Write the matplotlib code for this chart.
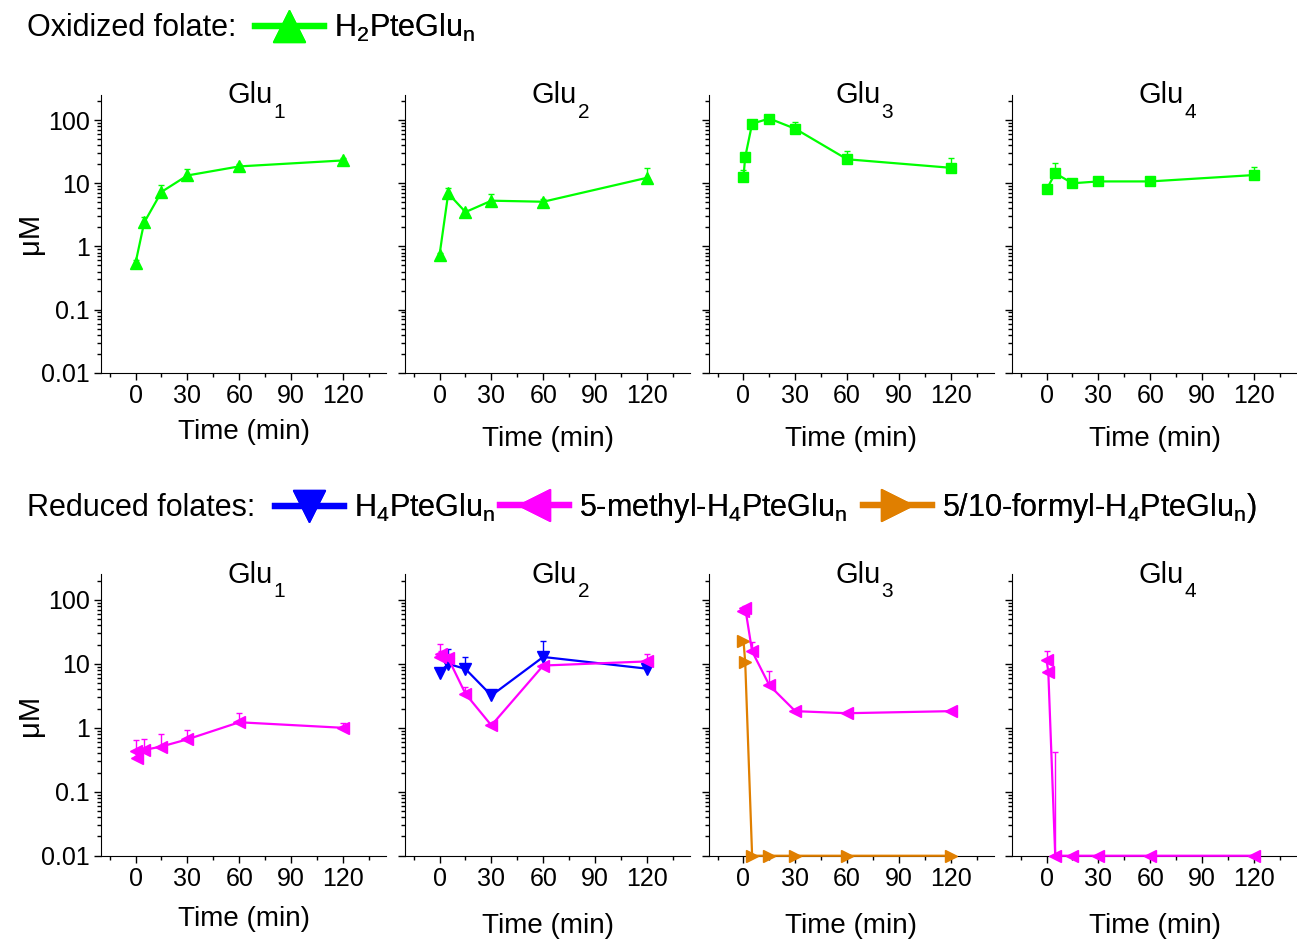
import numpy as np
import matplotlib
matplotlib.use("Agg")
import matplotlib.pyplot as plt
from matplotlib.lines import Line2D
from matplotlib.ticker import FixedLocator, FixedFormatter, MultipleLocator, LogLocator, NullFormatter

plt.rcParams['font.family'] = ['Liberation Sans', 'DejaVu Sans']
plt.rcParams['mathtext.default'] = 'regular'

# panel titles
panels = ['1', '2', '3', '4']

# oxidized folate (H2PteGlu_n), top row
ox_t = [[0, 5, 15, 30, 60, 120],
        [0, 5, 15, 30, 60, 120],
        [0, 1, 5, 15, 30, 60, 120],
        [0, 5, 15, 30, 60, 120]]
ox_val = [[0.55, 2.4, 7.3, 13.3, 18.5, 23],
          [0.74, 6.9, 3.5, 5.3, 5.1, 12.2],
          [12.7, 26, 88, 106, 73, 24, 17.6],
          [8.0, 14.4, 10.0, 10.7, 10.7, 13.5]]
ox_top = [[0.6, 2.95, 9.4, 16.6, 20, 25],
          [0.8, 8.4, 3.8, 6.8, 5.6, 17.5],
          [16.5, 28, 92, 112, 95, 33, 25],
          [8.5, 20.8, 10.5, 11.2, 11.2, 18]]
ox_marker = ['^', '^', 's', 's']

# reduced folates, bottom row
h4_t = {'2': [0, 5, 15, 30, 60, 120]}
h4_val = {'2': [7.3, 10.0, 8.3, 3.2, 12.8, 8.4]}
h4_top = {'2': [7.8, 17, 12.7, 3.4, 23, 9]}

me_t = {'1': [0, 1, 5, 15, 30, 60, 120],
        '2': [0, 1, 5, 15, 30, 60, 120],
        '3': [0, 1, 5, 15, 30, 60, 120],
        '4': [0, 1, 5, 15, 30, 60, 120]}
me_val = {'1': [0.44, 0.34, 0.45, 0.51, 0.66, 1.22, 1.0],
          '2': [12.7, 14.4, 12.2, 3.4, 1.09, 9.4, 10.9],
          '3': [68, 75, 15.7, 4.6, 1.82, 1.69, 1.82],
          '4': [11.5, 7.4, 0.01, 0.01, 0.01, 0.01, 0.01]}
me_top = {'1': [0.65, 0.36, 0.66, 0.8, 0.93, 1.73, 1.18],
          '2': [20.5, 16, 14, 4.4, 1.15, 10, 14.4],
          '3': [72, 80, 21.7, 7.7, 1.9, 1.75, 1.9],
          '4': [16, 8, 0.42, 0.01, 0.01, 0.01, 0.01]}

fo_t = {'3': [0, 1, 5, 15, 30, 60, 120]}
fo_val = {'3': [23, 10.6, 0.01, 0.01, 0.01, 0.01, 0.01]}
fo_top = {'3': [23, 10.6, 0.01, 0.01, 0.01, 0.01, 0.01]}

GREEN = '#00ff00'
BLUE = '#0000ff'
MAGENTA = '#ff00ff'
ORANGE = '#e07f00'

fig = plt.figure(figsize=(12.97, 9.41), dpi=100)

lefts = [0.0779, 0.3123, 0.5466, 0.7803]
w = 0.2197
row_y = [(0.604, 0.295), (0.0906, 0.299)]

yticks = [0.01, 0.1, 1, 10, 100]
ylabels = ['0.01', '0.1', '1', '10', '100']
xticks = [0, 30, 60, 90, 120]


def style(ax, col, row):
    ax.set_yscale('log')
    ax.set_ylim(0.01, 250)
    ax.set_xlim(-20, 145)
    for s in ['top', 'right']:
        ax.spines[s].set_visible(False)
    ax.yaxis.set_major_locator(FixedLocator(yticks))
    ax.yaxis.set_minor_locator(LogLocator(base=10, subs=np.arange(2, 10)))
    ax.yaxis.set_minor_formatter(NullFormatter())
    if col == 0:
        ax.yaxis.set_major_formatter(FixedFormatter(ylabels))
        ax.set_ylabel('μM', fontsize=21, labelpad=-2)
    else:
        ax.yaxis.set_major_formatter(NullFormatter())
    ax.xaxis.set_major_locator(FixedLocator(xticks))
    ax.xaxis.set_minor_locator(MultipleLocator(15))
    ax.tick_params(which='major', direction='out', length=5, width=1, labelsize=18, pad=3)
    ax.tick_params(which='minor', direction='out', length=3, width=1)
    pad = (8 if col == 0 else 13) + (3 if row == 1 else 0)
    ax.set_xlabel('Time (min)', fontsize=20, labelpad=pad)
    # title "Glu" with a dropped subscript
    t = ax.text(0.444, 0.970, 'Glu', transform=ax.transAxes,
                ha='left', va='baseline', fontsize=21)
    ax.annotate(panels[col], xy=(1, 0), xycoords=t, xytext=(0.5, -6),
                textcoords='offset points', fontsize=15, va='baseline', ha='left')


def series(ax, t, v, top, color, marker, ms):
    v = np.array(v, dtype=float)
    up = np.array(top, dtype=float) - v
    ax.errorbar(t, v, yerr=[np.zeros_like(up), up], color=color, lw=1.6,
                marker=marker, ms=ms, mec=color, mfc=color, capsize=2.5,
                elinewidth=1, capthick=1, clip_on=False, zorder=3)


for i in range(4):
    b, h = row_y[0]
    ax = fig.add_axes([lefts[i], b, w, h])
    style(ax, i, 0)
    ms = 9 if ox_marker[i] == '^' else 7
    series(ax, ox_t[i], ox_val[i], ox_top[i], GREEN, ox_marker[i], ms)

for i in range(4):
    b, h = row_y[1]
    ax = fig.add_axes([lefts[i], b, w, h])
    style(ax, i, 1)
    key = panels[i]
    if key in fo_t:
        series(ax, fo_t[key], fo_val[key], fo_top[key], ORANGE, '>', 8)
    if key in h4_t:
        series(ax, h4_t[key], h4_val[key], h4_top[key], BLUE, 'v', 8)
    if key in me_t:
        series(ax, me_t[key], me_val[key], me_top[key], MAGENTA, '<', 8)


def legend_entry(x, y, color, marker, label):
    h = [Line2D([], [], color=color, lw=4.5, marker=marker, ms=23)]
    leg = fig.legend(h, [label], loc='center left', bbox_to_anchor=(x, y),
                     frameon=False, fontsize=22, handlelength=2.25,
                     handletextpad=0.33, borderaxespad=0, borderpad=0)
    fig.add_artist(leg)


# legends
fig.text(0.021, 0.970, 'Oxidized folate:', fontsize=22, va='center', ha='left')
legend_entry(0.1966, 0.970, GREEN, '^', 'H$_2$PteGlu$_n$')

fig.text(0.021, 0.460, 'Reduced folates:', fontsize=22, va='center', ha='left')
legend_entry(0.212, 0.460, BLUE, 'v', 'H$_4$PteGlu$_n$')
legend_entry(0.3855, 0.460, MAGENTA, '<', '5-methyl-H$_4$PteGlu$_n$')
legend_entry(0.6654, 0.460, ORANGE, '>', '5/10-formyl-H$_4$PteGlu$_n$)')

fig.savefig('out.png', dpi=100)
